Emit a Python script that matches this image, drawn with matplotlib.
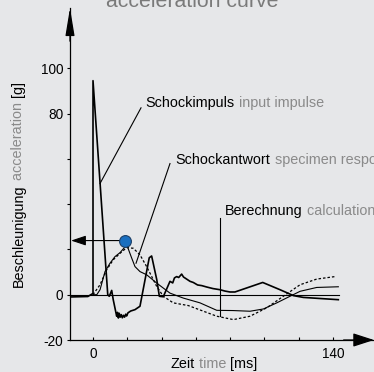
import numpy as np
import matplotlib
matplotlib.use("Agg")
import matplotlib.pyplot as plt

plt.rcParams['font.family'] = ['Liberation Sans', 'DejaVu Sans']

W, H = 374, 372
BG = '#e6e7e9'
GREY = '#8a8a8a'

# input impulse (thick line), time in ms, acceleration in g
impulse_t = [-13.4, -3.0, -0.6, 0.0, 0.0, 8.6, 9.5, 10.9, 11.8, 13.8, 14.3, 14.8, 15.3,
             15.9, 16.5, 17.1, 17.8, 18.4, 19.1, 19.6, 20.4, 22.0, 24.5, 27.4, 32.8,
             34.2, 37.2, 38.7, 41.0, 44.9, 46.5, 47.5, 48.8, 50.0, 51.7, 52.8, 54.0,
             56.6, 58.5, 61.0, 63.5, 66.3, 70.0, 74.1, 77.0, 79.9, 82.8, 99.0, 109.1,
             116.9, 122.7, 143.1]
impulse_g = [-1.0, -0.8, 0.3, 0.5, 94.5, 0.0, -0.7, 1.9, -2.2, -9.5, -7.8, -10.3, -8.2,
             -9.9, -8.8, -10.2, -9.1, -9.9, -8.6, -9.4, -8.0, -7.2, -6.6, -5.1, 16.3,
             17.1, 6.6, -0.7, -0.9, 5.9, 5.2, 7.4, 8.0, 7.6, 9.1, 7.8, 7.2,
             5.9, 5.4, 4.3, 4.0, 3.4, 2.7, 2.2, 1.6, 1.2, 1.2, 5.4, 2.2,
             -0.4, -1.2, -2.2]

# specimen response (thin line)
resp_t = [0.0, 2.2, 4.1, 7.0, 9.9, 12.8, 15.8, 19.7, 22.6, 24.5, 27.4, 31.3, 37.2,
          44.9, 52.7, 62.4, 72.2, 81.7, 91.6, 99.4, 107.2, 114.9, 120.8, 130.5, 143.1]
resp_g = [0.0, 0.0, 2.2, 10.2, 13.9, 16.8, 18.6, 22.0, 16.1, 12.4, 10.2, 8.8, 5.1,
          0.7, -1.5, -3.6, -6.9, -7.0, -7.3, -6.3, -3.6, -0.7, 1.5, 3.2, 3.5]

# calculation (dotted line)
calc_t = [0.0, 4.1, 8.0, 11.8, 15.8, 19.7, 23.5, 27.4, 31.3, 37.2, 41.0, 46.8, 55.6,
          72.2, 81.9, 91.6, 101.3, 111.0, 120.8, 130.5, 141.2]
calc_g = [0.0, 4.4, 11.0, 15.4, 18.3, 20.8, 20.5, 17.6, 12.4, 3.6, -0.7, -3.6, -4.8,
          -9.5, -11.0, -9.5, -5.8, -0.7, 4.4, 6.9, 8.0]

peak_t, peak_g = 18.7, 23.9

ytick_vals = [-20, 0, 20, 40, 60, 80, 100]
ytick_labels = ['-20', '0', '', '', '', '80', '100']
xtick_vals = [0, 20, 40, 60, 80, 100, 120, 140]
xtick_labels = ['0', '', '', '', '', '', '', '140']

fig = plt.figure(figsize=(W / 100, H / 100), dpi=100, facecolor=BG)
ax = fig.add_axes([70 / W, (H - 340) / H, (W - 70) / W, (340 - 8) / H])
ax.set_facecolor(BG)
ax.set_xlim(-13.42, -13.42 + 304 / 1.7143)
ax.set_ylim(-20, -20 + 332 / 2.265)

for s in ['top', 'right']:
    ax.spines[s].set_visible(False)
for s in ['left', 'bottom']:
    ax.spines[s].set_linewidth(0.9)

ax.set_yticks(ytick_vals)
ax.set_yticklabels(ytick_labels)
ax.set_xticks(xtick_vals)
ax.set_xticklabels(xtick_labels)
ax.tick_params(axis='y', direction='out', length=2.5, width=0.8, pad=2.5, labelsize=9.8)
ax.tick_params(axis='x', direction='in', length=2.5, width=0.8, pad=5, labelsize=9.8)

# arrow heads on the axes
ax.annotate('', xy=(0, 1), xytext=(0, 0.9), xycoords='axes fraction',
            arrowprops=dict(arrowstyle='-|>,head_length=1.7,head_width=0.28',
                            color='black', lw=0.9, shrinkA=0, shrinkB=0), annotation_clip=False)
ax.annotate('', xy=(1, 0), xytext=(0.9, 0), xycoords='axes fraction',
            arrowprops=dict(arrowstyle='-|>,head_length=1.3,head_width=0.42',
                            color='black', lw=0.9, shrinkA=0, shrinkB=0), annotation_clip=False)

# zero line and curves
ax.plot([-13.4, 143.5], [0, 0], color='black', lw=0.8)
ax.plot(calc_t, calc_g, color='black', lw=0.9, ls=(0, (2, 1.6)))
ax.plot(resp_t, resp_g, color='black', lw=0.8)
ax.plot(impulse_t, impulse_g, color='black', lw=1.2)

# peak marker with arrow back to the axis
ax.annotate('', xy=(-12.8, peak_g), xytext=(peak_t, peak_g),
            arrowprops=dict(arrowstyle='-|>,head_length=0.9,head_width=0.3',
                            color='black', lw=0.8, shrinkA=0, shrinkB=0))
ax.plot([peak_t], [peak_g], 'o', ms=8.5, mfc='#1a6fc0', mec='#1d3f66', mew=0.8, zorder=5)

# leader lines
ax.plot([28.0, 4.1], [82.5, 49.1], color='black', lw=0.8)
ax.plot([44.9, 25.1], [57.9, 13.9], color='black', lw=0.8)
ax.plot([74.1, 74.1], [33.8, -9.5], color='black', lw=0.8)


def two_tone(x, y, parts, size, rotation=0, coords=None):
    """Write consecutive text pieces with their own colours."""
    if coords is None:
        coords = ax.transData
    first, colour = parts[0]
    if rotation:
        t = ax.text(x, y, first, transform=coords, rotation=90, ha='center', va='bottom',
                    fontsize=size, color=colour)
    else:
        t = ax.text(x, y, first, transform=coords, ha='left', va='center',
                    fontsize=size, color=colour)
    for s, colour in parts[1:]:
        if rotation:
            t = ax.annotate(s, xy=(0.5, 1), xycoords=t, rotation=90, ha='center',
                            va='bottom', fontsize=size, color=colour, annotation_clip=False)
        else:
            t = ax.annotate(s, xy=(1, 0), xycoords=t, ha='left', va='bottom',
                            fontsize=size, color=colour, annotation_clip=False)
    return t


two_tone(30.7, 84.8, [('Schockimpuls', 'black'), (' input impulse', GREY)], 10.4)
two_tone(48.3, 59.6, [('Schockantwort', 'black'), (' specimen response', GREY)], 10.4)
two_tone(77.0, 36.9, [('Berechnung', 'black'), (' calculation', GREY)], 10.4)

px = fig.transFigure
two_tone(170.5 / W, 1 - 364 / H, [('Zeit', 'black'), (' time', GREY), (' [ms]', 'black')],
         10.4, coords=px)
two_tone(18.5 / W, 1 - 287 / H,
         [('Beschleunigung', 'black'), (' acceleration', GREY), (' [g]', 'black')],
         10.4, rotation=90, coords=px)

fig.text(192 / W, 1 - 7 / H, 'acceleration curve', ha='center', va='baseline',
         fontsize=15.3, color='#7a7a7a')

fig.savefig('out.png', dpi=100, facecolor=BG)
